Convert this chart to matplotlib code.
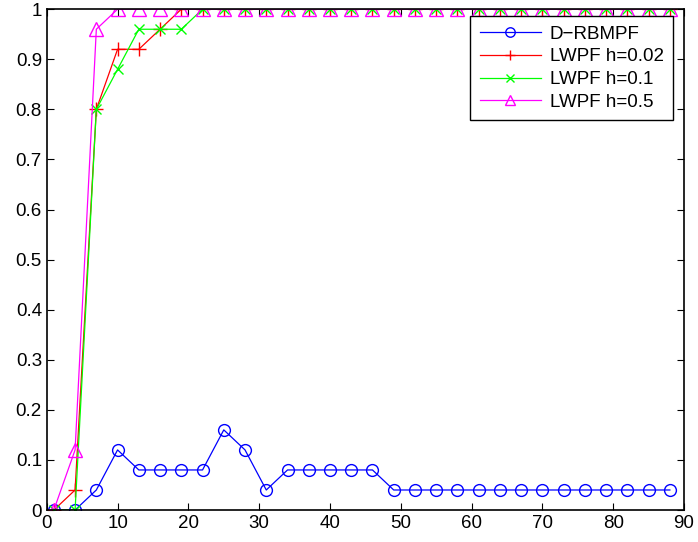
import matplotlib
matplotlib.use('Agg')
import matplotlib.pyplot as plt
import numpy as np

plt.rcParams['font.family'] = ['Liberation Sans', 'DejaVu Sans']

x = np.arange(1, 89, 3)
d_rbmpf = [0, 0, 0.04, 0.12, 0.08, 0.08, 0.08, 0.08, 0.16, 0.12,
           0.04, 0.08, 0.08, 0.08, 0.08, 0.08] + [0.04] * 14
lwpf_002 = [0, 0.04, 0.8, 0.92, 0.92, 0.96, 1.0] + [1.0] * 23
lwpf_01 = [0, 0, 0.8, 0.88, 0.96, 0.96, 0.96, 1.0] + [1.0] * 22
lwpf_05 = [0, 0.12, 0.96, 1.0] + [1.0] * 26

fig = plt.figure(figsize=(6.98, 5.42), dpi=100)
ax = fig.add_axes([0.067, 0.059, 0.913, 0.924])
ms = 8.5
ax.plot(x, d_rbmpf, color='#0000ff', marker='o', mfc='none', ms=ms, lw=0.9, label='D\u2212RBMPF')
ax.plot(x, lwpf_002, color='#ff0000', marker='+', ms=ms + 1, lw=0.9, label='LWPF h=0.02')
ax.plot(x, lwpf_01, color='#00ff00', marker='x', ms=ms - 2, lw=0.9, label='LWPF h=0.1')
ax.plot(x, lwpf_05, color='#ff00ff', marker='^', mfc='none', ms=ms + 1, lw=0.9, label='LWPF h=0.5')

ax.set_xlim(0, 90)
ax.set_ylim(0, 1)
ax.set_xticks(range(0, 91, 10))
ax.set_yticks(np.arange(0, 1.01, 0.1))
ax.set_yticklabels(['0', '0.1', '0.2', '0.3', '0.4', '0.5', '0.6', '0.7', '0.8', '0.9', '1'])
ax.tick_params(direction='in', length=5, labelsize=13.5, top=True, right=True,
               labeltop=False, labelright=False)
for s in ax.spines.values():
    s.set_linewidth(1.2)

leg = ax.legend(loc='upper right', bbox_to_anchor=(0.983, 0.986), borderaxespad=0,
                fontsize=13.5, fancybox=False, edgecolor='black', framealpha=1,
                handlelength=3.3, handletextpad=0.45, labelspacing=0.3,
                borderpad=0.5, markerscale=0.8)
leg.get_frame().set_linewidth(1.0)

fig.savefig('out.png', dpi=100)
